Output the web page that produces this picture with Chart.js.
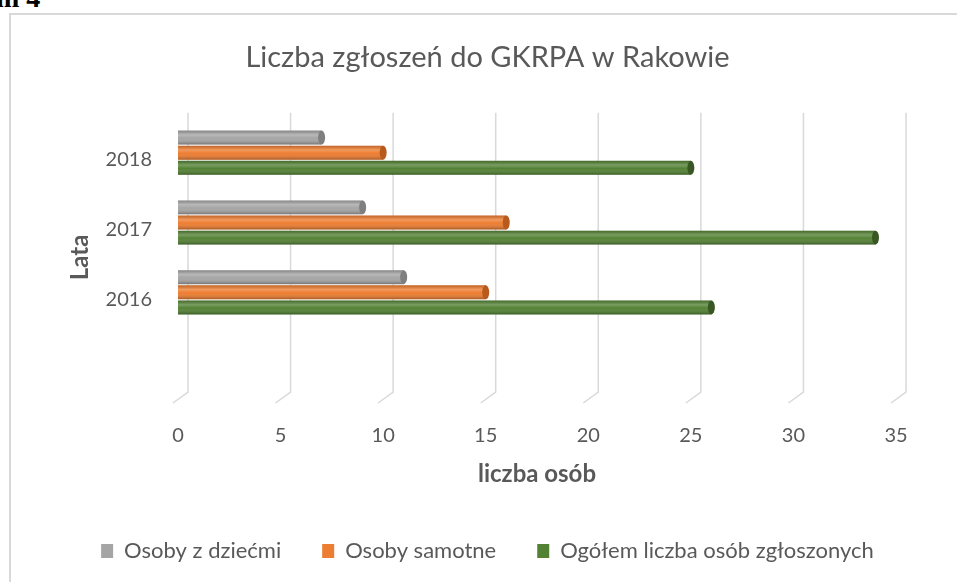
<!DOCTYPE html>
<html>
<head>
<meta charset="utf-8">
<script src="https://cdn.jsdelivr.net/npm/chart.js@4.4.0/dist/chart.umd.min.js"></script>
<style>
  html, body { margin: 0; padding: 0; background: #fff; overflow: hidden; width: 957px; height: 582px; }
  .caption { position: absolute; left: -4px; top: -16px; font: bold 28px "Liberation Serif", serif; line-height: 28px; color: #000; white-space: nowrap; }
  .frame { position: absolute; left: 9px; top: 13px; width: 1000px; height: 600px; border-left: 2px solid #d9d9d9; border-top: 2px solid #d9d9d9; }
  .frame canvas { position: absolute; left: 0; top: 0; }
</style>
</head>
<body>
<div class="caption">m 4</div>
<div class="frame"><canvas id="gkrpaChart" width="955" height="567"></canvas></div>
<script>
  /* ---------------- DATA ---------------- */

  const years = ['2018', '2017', '2016', ''];
  const withChildren = [7, 9, 11, null];
  const single = [10, 16, 15, null];
  const totalReported = [25, 34, 26, null];
  const xTicks = [0, 5, 10, 15, 20, 25, 30, 35];

  const textGray = '#595959';
  const fontFamily = 'Lato, "Open Sans", sans-serif';

  /* ---------------- 3D GRID (back wall + floor) ---------------- */

  const gridPlugin = {
    id: 'grid3d',
    beforeDatasetsDraw(chart) {
      const { ctx, chartArea, scales } = chart;
      ctx.save();
      ctx.strokeStyle = '#d9d9d9';
      ctx.lineWidth = 1.5;
      xTicks.forEach(v => {
        const px = scales.x.getPixelForValue(v);
        ctx.beginPath();
        ctx.moveTo(px + 10, chartArea.top - 5);
        ctx.lineTo(px + 10, chartArea.bottom - 5);
        ctx.lineTo(px - 5, chartArea.bottom + 6);
        ctx.stroke();
      });
      ctx.restore();
    }
  };

  /* ---------------- CYLINDER SHADING ---------------- */

  const capColors = ['#7f7f7f', '#b85a1c', '#385723'];

  const cylinderPlugin = {
    id: 'cylinder',
    afterDatasetsDraw(chart) {
      const ctx = chart.ctx;
      chart.data.datasets.forEach((ds, di) => {
        const meta = chart.getDatasetMeta(di);
        meta.data.forEach((bar, i) => {
          if (ds.data[i] == null) return;
          const h = bar.height, top = bar.y - h / 2;
          const g = ctx.createLinearGradient(0, top, 0, top + h);
          g.addColorStop(0, 'rgba(0,0,0,0.18)');
          g.addColorStop(0.3, 'rgba(255,255,255,0.22)');
          g.addColorStop(0.55, 'rgba(255,255,255,0)');
          g.addColorStop(1, 'rgba(0,0,0,0.3)');
          ctx.save();
          ctx.fillStyle = g;
          ctx.fillRect(bar.base, top, bar.x - bar.base, h);
          ctx.fillStyle = capColors[di];
          ctx.beginPath();
          ctx.ellipse(bar.x, bar.y, 3.5, h / 2, 0, 0, Math.PI * 2);
          ctx.fill();
          ctx.restore();
        });
      });
    }
  };

  /* ---------------- CHART ---------------- */

  const ctx = document.getElementById('gkrpaChart').getContext('2d');

  new Chart(ctx, {
    type: 'bar',
    data: {
      labels: years,
      datasets: [
        { label: 'Osoby z dziećmi', data: withChildren, backgroundColor: '#a5a5a5' },
        { label: 'Osoby samotne', data: single, backgroundColor: '#ed7d31' },
        { label: 'Ogółem liczba osób zgłoszonych', data: totalReported, backgroundColor: '#548235' }
      ]
    },
    plugins: [gridPlugin, cylinderPlugin],
    options: {
      indexAxis: 'y',
      responsive: false,
      animation: false,
      categoryPercentage: 0.65,
      barPercentage: 0.92,
      layout: { padding: { left: 10, right: 12, top: 0, bottom: 10 } },
      scales: {
        x: {
          min: 0,
          max: 35,
          ticks: { stepSize: 5, color: textGray, font: { family: fontFamily, size: 20 }, padding: 27 },
          grid: { display: false, drawTicks: false },
          border: { display: false },
          title: { display: true, text: 'liczba osób', color: textGray, font: { family: fontFamily, size: 24, weight: 'bold' }, padding: { top: 0, bottom: 10 } },
          afterFit: s => { s.height = 102; }
        },
        y: {
          ticks: { color: textGray, font: { family: fontFamily, size: 20 }, padding: 26, labelOffset: 7 },
          grid: { display: false, drawTicks: false },
          border: { display: false },
          title: { display: true, text: 'Lata', color: textGray, font: { family: fontFamily, size: 24, weight: 'bold' }, padding: { top: 45, bottom: 0 } },
          afterFit: s => { s.width = 157; }
        },
        yRight: {
          type: 'category',
          position: 'right',
          labels: years,
          ticks: { display: false },
          grid: { display: false, drawTicks: false },
          border: { display: false },
          afterFit: s => { s.width = 58; }
        }
      },
      plugins: {
        title: {
          display: true,
          text: 'Liczba zgłoszeń do GKRPA w Rakowie',
          color: textGray,
          font: { family: fontFamily, size: 29, weight: 'normal' },
          padding: { top: 25, bottom: 43 }
        },
        legend: {
          position: 'bottom',
          labels: { color: textGray, font: { family: fontFamily, size: 22 }, boxWidth: 12, boxHeight: 14, padding: 41 }
        },
        tooltip: { enabled: false }
      }
    }
  });
</script>
</body>
</html>
